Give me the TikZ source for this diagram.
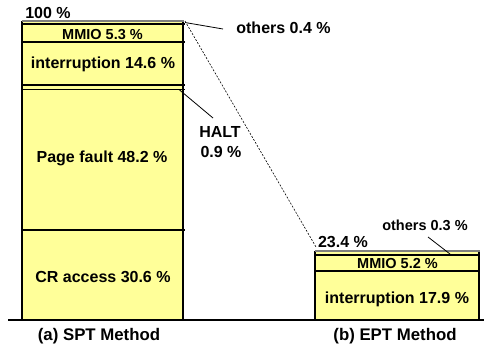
\documentclass[tikz,border=0pt]{standalone}
\usepackage{fontspec}
\setmainfont{Liberation Sans}
\definecolor{baryellow}{RGB}{255,255,153}
\begin{document}
\begin{tikzpicture}[x=1pt,y=-1pt,
  lbl/.style={font=\bfseries\fontsize{16}{16}\selectfont, inner sep=0pt, anchor=base},
  caplbl/.style={font=\bfseries\fontsize{16.8}{16.8}\selectfont, inner sep=0pt, anchor=base},
  smalllbl/.style={font=\bfseries\fontsize{14.5}{14.5}\selectfont, inner sep=0pt, anchor=base},
  divline/.style={black, line width=1.6pt},
  edgeline/.style={black, line width=2pt},
  topline/.style={gray, line width=1.2pt},
  leader/.style={black, line width=0.8pt},
  dashlink/.style={black, line width=0.6pt, dash pattern=on 2pt off 1.5pt}]
\useasboundingbox (0,0) rectangle (484,346);
% ---- left bar (SPT)
\fill[baryellow] (22,21) rectangle (183,320);
\foreach \yy in {24,42,85,89.5,230} \draw[divline] (22,\yy) -- (185,\yy);
\draw[edgeline] (22,21) -- (22,320);
\draw[edgeline] (183,21) -- (183,320);
\draw[topline] (22,21) -- (184,21);
% ---- right bar (EPT)
\fill[baryellow] (315,251) rectangle (479,320);
\foreach \yy in {255,271} \draw[divline] (315,\yy) -- (480,\yy);
\draw[edgeline] (315,251) -- (315,320);
\draw[edgeline] (479,251) -- (479,320);
\draw[topline] (315,251) -- (480,251);
% ---- baseline
\draw[line width=2.2pt] (8,320) -- (484,320);
% ---- coordinates
\coordinate (sptTop) at (185,21);
\coordinate (sptOthers) at (185,22.5);
\coordinate (sptHalt) at (179,89.5);
\coordinate (eptTop) at (316,247);
\coordinate (eptOthers) at (450,254);
% ---- labels
\node[lbl] (p100) at (48,18.3) {100 \%};
\node[smalllbl] (mmioA) at (102.5,39.3) {MMIO 5.3 \%};
\node[lbl] (intA) at (103,68) {interruption 14.6 \%};
\node[lbl] (pfA) at (102,162.5) {Page fault 48.2 \%};
\node[lbl] (crA) at (103,282) {CR access 30.6 \%};
\node[lbl] (othA) at (283.5,33) {others 0.4 \%};
\node[lbl] (haltA) at (220,137) {HALT};
\node[lbl] (haltB) at (221,157) {0.9 \%};
\node[lbl] (p234) at (343,247) {23.4 \%};
\node[smalllbl] (othB) at (425,230) {others 0.3 \%};
\node[smalllbl] (mmioB) at (397.5,268) {MMIO 5.2 \%};
\node[lbl] (intB) at (397,303) {interruption 17.9 \%};
\node[caplbl] (capA) at (99,340) {(a) SPT Method};
\node[caplbl] (capB) at (395,340) {(b) EPT Method};
% ---- connectors
\coordinate (othAend) at (223,29);
\coordinate (haltEnd) at (213,118);
\coordinate (othBend) at (428,237);
\draw[leader] (sptOthers) -- (othAend);
\draw[leader] (sptHalt) -- (haltEnd);
\draw[leader] (othBend) -- (eptOthers);
\draw[dashlink] (sptTop) -- (eptTop);
\end{tikzpicture}
\end{document}
